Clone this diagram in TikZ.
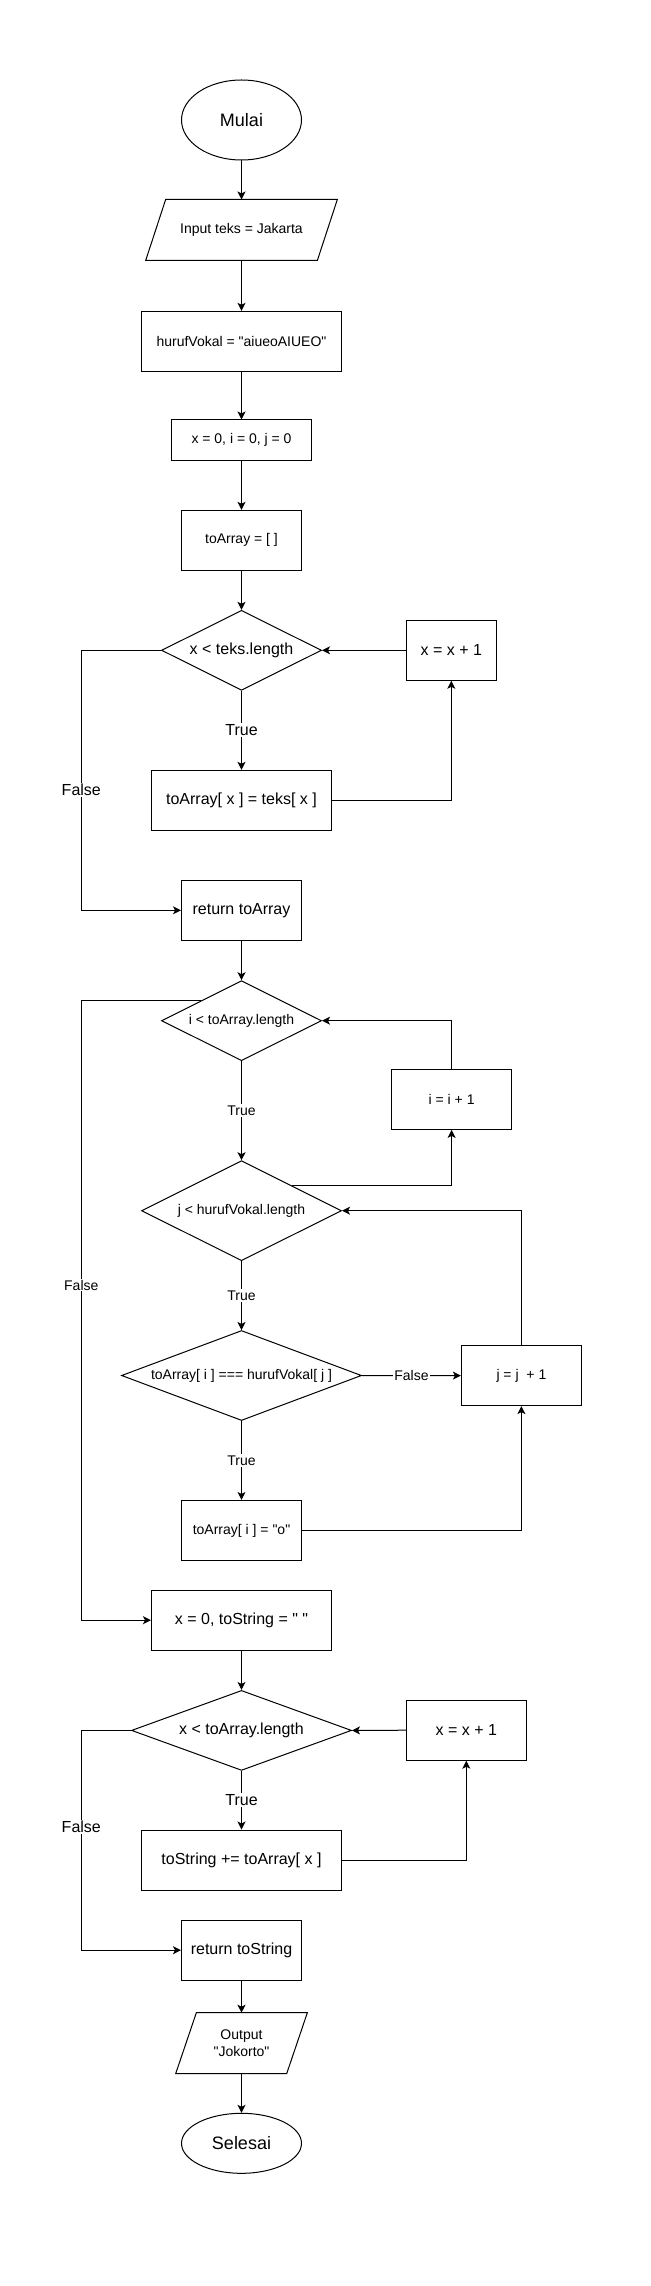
\documentclass[tikz,border=0pt]{standalone}
\usepackage{fontspec}
\setmainfont{Liberation Sans}[Ligatures=TeXOff]
\usetikzlibrary{shapes.geometric,arrows.meta,calc}
\begin{document}
\begin{tikzpicture}[x=0.75pt,y=-0.75pt, line width=0.75pt,
  >={Stealth[length=6pt,width=6pt,inset=1.5pt]},
  box/.style={draw, rectangle, inner sep=0pt, align=center},
  dia/.style={draw, diamond, inner sep=0pt, align=center},
  term/.style={draw, ellipse, inner sep=0pt},
  io/.style={rectangle, inner sep=0pt, align=center},
  lab/.style={fill=white, inner sep=1pt},
  fa/.style={font=\fontsize{10.5}{12.75}\selectfont},
  fb/.style={font=\fontsize{12}{14.4}\selectfont},
  fc/.style={font=\fontsize{13.5}{16}\selectfont}]

\useasboundingbox (0,0) rectangle (650,2286);
\coordinate (fl) at (81.3,0);

% top section
\node[term, fc, minimum width=90pt, minimum height=60pt] (mulai) at (241.5,120) {Mulai};
\node[io, fa, minimum width=143pt, minimum height=45pt] (in) at (241.5,230) {Input teks = Jakarta};
\draw ([xshift=15pt]in.north west) -- (in.north east) -- ([xshift=-15pt]in.south east) -- (in.south west) -- cycle;
\node[box, fa, minimum width=150pt, minimum height=45pt] (huruf) at (241.5,341.3) {hurufVokal = "aiueoAIUEO"};
\node[box, fa, minimum width=105pt, minimum height=30pt] (init) at (241.5,440) {x = 0, i = 0, j = 0};
\node[box, fa, minimum width=90pt, minimum height=45pt] (toarr) at (241.5,540.3) {toArray = [ ]};

% loop 1
\node[dia, fb, shape aspect=2, minimum width=120pt, minimum height=60pt] (d1) at (241.5,650.3) {x < teks.length};
\node[box, fb, minimum width=67.5pt, minimum height=45pt] (inc1) at (451.3,650.3) {x = x + 1};
\node[box, fb, minimum width=135pt, minimum height=45pt] (b1) at (241.5,800.3) {toArray[ x ] = teks[ x ]};
\node[box, fb, minimum width=90pt, minimum height=45pt] (ret1) at (241.5,910.3) {return toArray};

% loop 2
\node[dia, fa, shape aspect=2, minimum width=120pt, minimum height=60pt] (d2) at (241.5,1020.7) {i < toArray.length};
\node[box, fa, minimum width=90pt, minimum height=45pt] (inc2) at (451.6,1099.4) {i = i + 1};
\node[dia, fa, shape aspect=2, minimum width=150pt, minimum height=75pt] (d3) at (241.5,1210.7) {j < hurufVokal.length};
\node[dia, fa, shape aspect=2.667, minimum width=180pt, minimum height=67.5pt] (d4) at (241.5,1375.5) {toArray[ i ] === hurufVokal[ j ]};
\node[box, fa, minimum width=90pt, minimum height=45pt] (jinc) at (521.4,1375.6) {j = j\ \ + 1};
\node[box, fa, minimum width=90pt, minimum height=45pt] (oset) at (241.5,1530.4) {toArray[ i ] = "o"};

% loop 3
\node[box, fb, minimum width=135pt, minimum height=45pt] (str0) at (241.5,1620.2) {x = 0, toString = " "};
\node[dia, fb, shape aspect=2.75, minimum width=165pt, minimum height=60pt] (d5) at (241.5,1730.4) {x < toArray.length};
\node[box, fb, minimum width=90pt, minimum height=45pt] (inc5) at (466.3,1730.2) {x = x + 1};
\node[box, fb, minimum width=150pt, minimum height=45pt] (b5) at (241.5,1860) {toString += toArray[ x ]};
\node[box, fb, minimum width=90pt, minimum height=45pt] (ret2) at (241.5,1950.2) {return toString};
\node[io, fa, minimum width=98pt, minimum height=45pt] (out) at (241.5,2043.2) {Output\\"Jokorto"};
\draw ([xshift=15.5pt]out.north west) -- (out.north east) -- ([xshift=-15.5pt]out.south east) -- (out.south west) -- cycle;
\node[term, fc, minimum width=90pt, minimum height=45pt] (sel) at (241.5,2143.3) {Selesai};

% connectors
\draw[->] (mulai) -- (in);
\draw[->] (in) -- (huruf);
\draw[->] (huruf) -- (init);
\draw[->] (init) -- (toarr);
\draw[->] (toarr) -- (d1);
\draw[->] (d1) -- node[lab, fb] {True} (b1);
\draw[->] (b1.east) -| (inc1.south);
\draw[->] (inc1.west) -- (d1.east);
\draw[->] (d1.west) -- (d1.west -| fl) |- (ret1.west);
\node[lab, fb] (f1) at (81.3,790) {False};
\draw[->] (ret1) -- (d2);

\coordinate (d2ul) at ($(d2.north)!0.5!(d2.west)$);
\coordinate (d3ur) at ($(d3.north)!0.5!(d3.east)$);
\draw[->] (d2) -- node[lab, fa] {True} (d3);
\draw[->] (d3ur) -| (inc2.south);
\draw[->] (inc2.north) |- (d2.east);
\draw[->] (d3) -- node[lab, fa] {True} (d4);
\draw[->] (d4.east) -- node[lab, fa] {False} (jinc.west);
\draw[->] (jinc.north) |- (d3.east);
\draw[->] (d4) -- node[lab, fa] {True} (oset);
\draw[->] (oset.east) -| (jinc.south);
\draw[->] (d2ul) -- (d2ul -| fl) |- (str0.west);
\node[lab, fa] (f2) at (81.3,1285) {False};

\draw[->] (str0) -- (d5);
\draw[->] (d5) -- node[lab, fb] {True} (b5);
\draw[->] (b5.east) -| (inc5.south);
\draw[->] (inc5.west) -- (d5.east);
\draw[->] (d5.west) -- (d5.west -| fl) |- (ret2.west);
\node[lab, fb] (f3) at (81.3,1827) {False};
\draw[->] (ret2) -- (out);
\draw[->] (out) -- (sel);
\end{tikzpicture}
\end{document}
